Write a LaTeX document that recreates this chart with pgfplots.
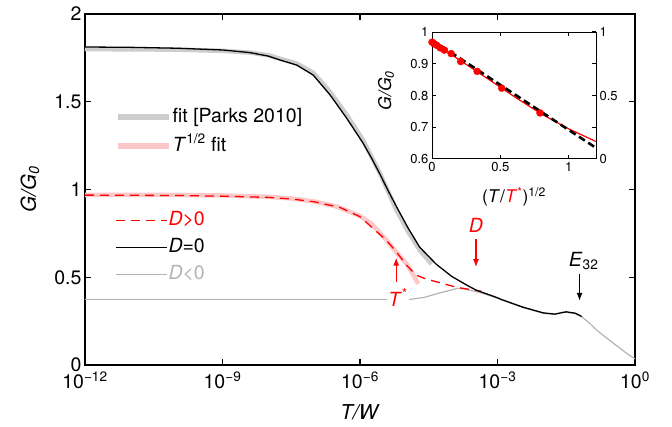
\documentclass[border=0pt]{standalone}
\usepackage{fontspec}
\setmainfont{TeX Gyre Heros}
\usepackage{pgfplots}
\pgfplotsset{compat=1.18}
\usetikzlibrary{arrows.meta}

\definecolor{fitgray}{RGB}{205,205,205}
\definecolor{fitpink}{RGB}{255,200,200}
\definecolor{dneg}{RGB}{180,180,180}

\newcommand{\tickf}{\fontsize{19.5}{22}\selectfont}
\newcommand{\legf}{\fontsize{19.5}{22}\selectfont}
\newcommand{\labf}{\fontsize{20.5}{24}\selectfont}
\newcommand{\insf}{\fontsize{13}{15}\selectfont}
\newcommand{\inslabf}{\fontsize{17.5}{20}\selectfont}

\pgfplotsset{
  mainframe/.style={
    at={(85pt,-365pt)}, anchor=south west, scale only axis,
    width=550pt, height=351pt,
    xmin=-12, xmax=0, ymin=0, ymax=2,
  },
  legbox/.style={
    legend style={draw=none, fill=none, font=\legf, inner sep=0pt,
      nodes={inner sep=1pt, text height=14pt, text depth=4pt}},
    legend cell align=left,
    legend image post style={xscale=2.99},
  },
}

\begin{document}
\begin{tikzpicture}
  % main panel
  \begin{axis}[
    mainframe, legbox,
    xtick={-12,-9,-6,-3,0},
    xticklabels={10\textsuperscript{−12},10\textsuperscript{−9},10\textsuperscript{−6},10\textsuperscript{−3},10\textsuperscript{0}},
    ytick={0,0.5,1,1.5,2},
    tick align=inside, major tick length=6pt,
    axis line style={line width=1.2pt},
    every tick/.style={line width=1.2pt, black},
    /pgf/number format/assume math mode=true,
    tick label style={font=\tickf},
    xticklabel style={yshift=-3pt},
    label style={font=\labf},
    xlabel={\textit{T/W}},
    ylabel={\textit{G/G}\textsubscript{\textit{0}}},
    xlabel style={at={(axis description cs:0.5,-0.134)}, anchor=center},
    ylabel style={at={(axis description cs:-0.1,0.5)}, anchor=center},
    legend style={at={(0.0545,0.4416)}, anchor=north west, row sep=7pt},
  ]
    % fit [Parks 2010]
    \addplot[fitgray, line width=4.5pt, forget plot] coordinates {
      (-12,1.800) (-10,1.797) (-9,1.790) (-8.4,1.780) (-8,1.765) (-7.745,1.745)
      (-7.38,1.718) (-7.02,1.665) (-6.65,1.555) (-6.29,1.425) (-5.93,1.280)
      (-5.56,1.090) (-5.38,0.985) (-5.2,0.880) (-4.95,0.760) (-4.70,0.655)
      (-4.44,0.575)
    };
    % T^{1/2} fit
    \addplot[fitpink, line width=4.5pt, forget plot] coordinates {
      (-12,0.970) (-10,0.969) (-9,0.966) (-8,0.958) (-7.5,0.949) (-7,0.932)
      (-6.5,0.902) (-6,0.849) (-5.75,0.805) (-5.45,0.720) (-5.2,0.640)
      (-4.98,0.575) (-4.85,0.520) (-4.73,0.462)
    };
    % D<0
    \addplot[dneg, line width=1.2pt, forget plot] coordinates {
      (-12,0.374) (-4.9,0.374) (-4.6,0.385) (-4.3,0.408) (-3.87,0.437)
      (-3.75,0.434) (-3.6,0.426) (-3.4,0.414) (-3.2,0.398) (-3.0,0.380)
      (-2.9,0.370) (-2.45,0.328) (-2.0,0.294) (-1.75,0.289) (-1.56,0.302)
      (-1.3,0.293) (-1.16,0.275) (-1.0,0.240) (-0.84,0.200) (-0.65,0.160)
      (-0.47,0.124) (-0.3,0.090) (-0.15,0.060) (0,0.035)
    };
    % D>0
    \addplot[red, line width=1.3pt, dash pattern=on 9pt off 6pt, forget plot] coordinates {
      (-12,0.968) (-10,0.966) (-9,0.962) (-8,0.955) (-7.5,0.946) (-7,0.930)
      (-6.44,0.898) (-6,0.845) (-5.80,0.798) (-5.43,0.712) (-5.21,0.646)
      (-4.99,0.570) (-4.78,0.513) (-4.56,0.490) (-4.20,0.465) (-3.90,0.443)
      (-3.47,0.425) (-3.35,0.420)
    };
    % D=0
    \addplot[black, line width=1.3pt, forget plot] coordinates {
      (-12,1.812) (-11,1.810) (-10,1.805) (-9,1.795) (-8.4,1.780) (-8,1.760)
      (-7.745,1.738) (-7.38,1.709) (-7.02,1.652) (-6.65,1.538) (-6.29,1.406)
      (-5.93,1.263) (-5.74,1.175) (-5.56,1.085) (-5.38,0.990) (-5.2,0.900)
      (-4.95,0.780) (-4.70,0.672) (-4.34,0.575) (-4.0,0.505) (-3.67,0.455)
      (-3.47,0.427) (-3.03,0.386) (-2.9,0.372) (-2.45,0.330) (-2.0,0.297)
      (-1.75,0.290) (-1.5,0.303) (-1.3,0.295) (-1.16,0.276)
    };

    \addlegendimage{red, line width=1.3pt, dash pattern=on 9pt off 6pt}
    \addlegendentry{\textcolor{red}{\textit{D}>0}}
    \addlegendimage{black, line width=1.3pt}
    \addlegendentry{\textit{D}=0}
    \addlegendimage{dneg, line width=1.3pt}
    \addlegendentry{\textcolor{dneg}{\textit{D}<0}}

    % annotations
    \draw[red, line width=1.2pt, -{Latex[length=8pt,width=6pt]}]
      (axis cs:-3.47,0.718) -- (axis cs:-3.47,0.558);
    \node[red, font=\legf] at (axis cs:-3.47,0.795) {\textit{D}};
    \draw[red, line width=1.2pt, -{Latex[length=8pt,width=6pt]}]
      (axis cs:-5.21,0.475) -- (axis cs:-5.21,0.612);
    \node[red, font=\legf, fill=white, inner sep=1pt] at (axis cs:-5.17,0.385) {\textit{T}\textsuperscript{*}};
    \draw[black, line width=1.2pt, -{Latex[length=8pt,width=6pt]}]
      (axis cs:-1.21,0.518) -- (axis cs:-1.21,0.366);
    \node[black, font=\legf] at (axis cs:-1.12,0.595) {\textit{E}\textsubscript{32}};
  \end{axis}

  % second legend (fits)
  \begin{axis}[
    mainframe, legbox, hide axis,
    legend style={at={(0.0545,0.735)}, anchor=north west, row sep=9pt},
  ]
    \addlegendimage{fitgray, line width=5.5pt}
    \addlegendentry{fit [Parks 2010]}
    \addlegendimage{fitpink, line width=5.5pt}
    \addlegendentry{\textit{T}\textsuperscript{1/2} fit}
  \end{axis}

  % inset
  \begin{axis}[
    at={(432pt,-159pt)}, anchor=south west, scale only axis,
    width=164pt, height=127pt,
    xmin=0, xmax=1.2, ymin=0.6, ymax=1,
    xtick={0,0.5,1}, ytick={0.6,0.7,0.8,0.9,1},
    axis background/.style={fill=white},
    tick align=inside, major tick length=4pt,
    axis line style={line width=1pt},
    every tick/.style={line width=1pt, black},
    /pgf/number format/assume math mode=true,
    tick label style={font=\insf},
    label style={font=\inslabf},
    xlabel={(\textit{T}/\textcolor{red}{\textit{T}\textsuperscript{*}})\textsuperscript{1/2}},
    ylabel={\textit{G/G}\textsubscript{\textit{0}}},
    xlabel style={at={(axis description cs:0.5,-0.30)}, anchor=center},
    ylabel style={at={(axis description cs:-0.28,0.54)}, anchor=center},
  ]
    \addplot[red, line width=1.2pt] coordinates {
      (0,0.970) (0.2,0.912) (0.4,0.855) (0.6,0.797) (0.8,0.742) (1.0,0.695) (1.2,0.655)
    };
    \addplot[black, line width=2.6pt, dash pattern=on 7pt off 4pt] coordinates {
      (0,0.975) (1.2,0.635)
    };
    \addplot[only marks, mark=*, mark size=3.5pt, red] coordinates {
      (0,0.968) (0.015,0.963) (0.035,0.958) (0.06,0.950) (0.09,0.943)
      (0.14,0.932) (0.21,0.907) (0.33,0.876) (0.51,0.823) (0.79,0.745)
    };
  \end{axis}
  \begin{axis}[
    at={(432pt,-159pt)}, anchor=south west, scale only axis,
    width=164pt, height=127pt,
    xmin=0, xmax=1.2, ymin=0, ymax=1,
    axis x line=none, axis y line*=right,
    ytick={0,0.5,1},
    tick align=inside, major tick length=4pt,
    axis line style={line width=1pt},
    every tick/.style={line width=1pt, black},
    /pgf/number format/assume math mode=true,
    tick label style={font=\insf},
  ]
  \end{axis}

  \pgfresetboundingbox
  \useasboundingbox (0pt,0pt) rectangle (672pt,-427pt);
\end{tikzpicture}
\end{document}
